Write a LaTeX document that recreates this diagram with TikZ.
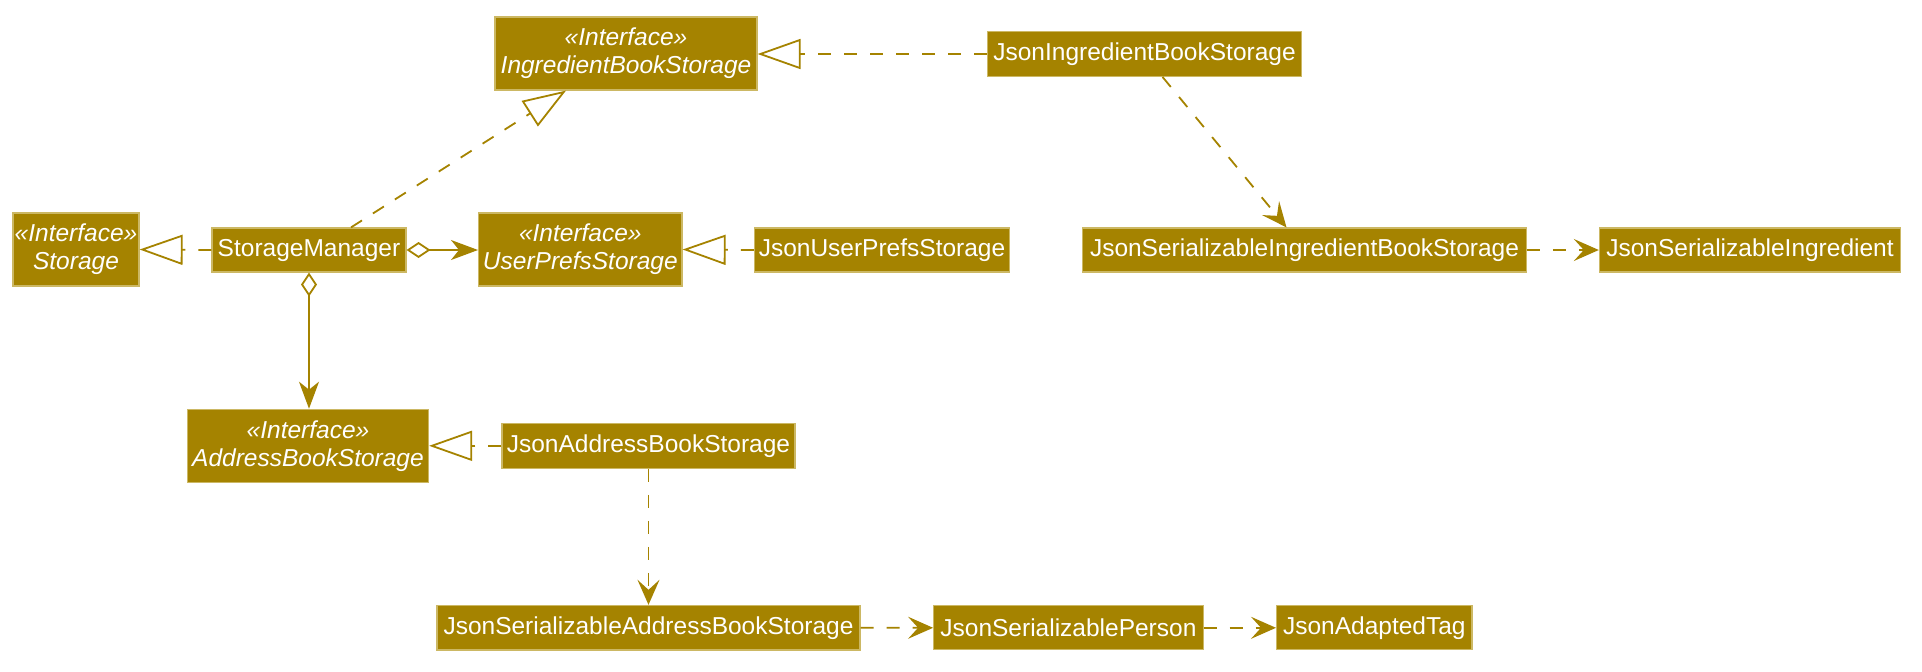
\documentclass[tikz,border=0pt]{standalone}
\usepackage{fontspec}
\setmainfont{Liberation Sans}
\usetikzlibrary{arrows.meta}
\definecolor{boxfill}{RGB}{165,131,0}
\definecolor{boxborder}{RGB}{204,184,100}
\definecolor{linecol}{RGB}{165,131,0}
\tikzset{
  cls/.style={rectangle, fill=boxfill, draw=boxborder, line width=0.6pt, text=white,
    inner sep=0pt, align=center, font=\fontsize{12.25}{14}\selectfont},
  iface/.style={cls, font=\fontsize{12.25}{14}\selectfont\itshape},
  conn/.style={draw=linecol, line width=0.9pt},
  dashpat/.style={dash pattern=on 6.5pt off 6.5pt},
  realize/.style={conn, dashpat, -{Triangle[open, fill=white, length=21.5pt, width=15pt]}},
  depend/.style={conn, dashpat, -{Stealth[length=12.5pt, width=11pt, inset=5pt]}},
  aggr/.style={conn, {Diamond[open, fill=white, length=12pt, width=8pt]}-{Stealth[length=13.5pt, width=10pt, inset=4pt]}}
}
\begin{document}
\begin{tikzpicture}[x=0.5pt, y=-0.5pt]
\useasboundingbox (0,0) rectangle (1922,671);
% nodes
\node[iface, minimum width=131pt, minimum height=36.5pt] (IBS) at (626,53.5) {«Interface»\\IngredientBookStorage};
\node[cls, minimum width=157pt, minimum height=22.3pt] (JIBS) at (1144.5,54) {JsonIngredientBookStorage};
\node[iface, minimum width=63pt, minimum height=36.5pt] (ST) at (76,249.5) {«Interface»\\Storage};
\node[cls, minimum width=97pt, minimum height=22pt] (SM) at (309,250) {StorageManager};
\node[iface, minimum width=101.7pt, minimum height=36.5pt] (UPS) at (580.3,249.5) {«Interface»\\UserPrefsStorage};
\node[cls, minimum width=127.5pt, minimum height=22pt] (JUPS) at (882,250) {JsonUserPrefsStorage};
\node[cls, minimum width=221.8pt, minimum height=22pt] (JSIBS) at (1304.5,250) {JsonSerializableIngredientBookStorage};
\node[cls, minimum width=150.6pt, minimum height=22pt] (JSI) at (1750,250) {JsonSerializableIngredient};
\node[iface, minimum width=120.5pt, minimum height=36.5pt] (ABS) at (308,445.8) {«Interface»\\AddressBookStorage};
\node[cls, minimum width=146.5pt, minimum height=22.5pt] (JABS) at (648.5,445.8) {JsonAddressBookStorage};
\node[cls, minimum width=211.5pt, minimum height=22.3pt] (JSABS) at (648.5,627.7) {JsonSerializableAddressBookStorage};
\node[cls, minimum width=134.7pt, minimum height=22pt] (JSP) at (1068.4,627.8) {JsonSerializablePerson};
\node[cls, minimum width=97.7pt, minimum height=22pt] (JAT) at (1374.3,627.8) {JsonAdaptedTag};
% realizations
\draw[realize] (JIBS.west) -- (JIBS.west -| IBS.east);
\draw[realize] ([xshift=21pt]SM.north) -- ([xshift=-30pt]IBS.south);
\draw[realize] (SM.west) -- (ST.east);
\draw[realize] (JUPS.west) -- (UPS.east);
\draw[realize] (JABS.west) -- (ABS.east);
% aggregations
\draw[aggr] (SM.east) -- (SM.east -| UPS.west);
\draw[aggr] (SM.south) -- (SM.south |- ABS.north);
% dependencies
\draw[depend] ([xshift=9pt]JIBS.south) -- ([xshift=-9pt]JSIBS.north);
\draw[depend] (JSIBS.east) -- (JSI.west);
\draw[depend] (JABS.south) -- (JSABS.north);
\draw[depend] (JSABS.east) -- (JSP.west);
\draw[depend] (JSP.east) -- (JAT.west);
\end{tikzpicture}
\end{document}
